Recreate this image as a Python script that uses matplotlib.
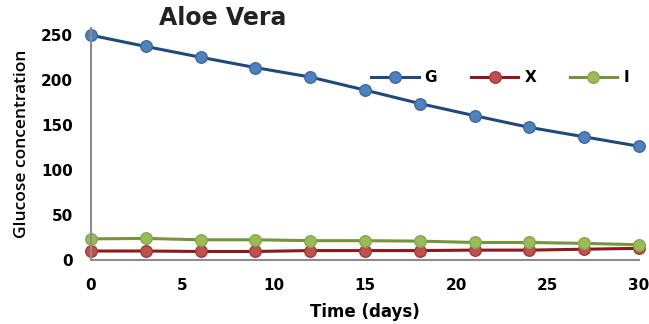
import matplotlib
matplotlib.use("Agg")
import matplotlib.pyplot as plt

days = [0, 3, 6, 9, 12, 15, 18, 21, 24, 27, 30]
G = [250, 237.5, 225.5, 214, 203.5, 189, 174, 160.5, 147.5, 137, 126.5]
X = [10, 10, 9.5, 9.5, 10.5, 10.5, 10.5, 11, 11, 12, 13]
I = [23.5, 24, 22.5, 22.5, 21.5, 21.5, 21, 19.5, 19.5, 18.5, 17]
series_names = ["G", "X", "I"]
xticks = [0, 5, 10, 15, 20, 25, 30]
yticks = [0, 50, 100, 150, 200, 250]

fig = plt.figure(figsize=(6.49, 3.24), dpi=100)
ax = fig.add_axes([0.1402, 0.1975, 0.8444, 0.716])

styles = [
    dict(color="#1F497D", mfc="#4F81BD", mec="#3A6A9F"),
    dict(color="#8B1A1A", mfc="#C0504D", mec="#A03A37"),
    dict(color="#77933C", mfc="#9BBB59", mec="#86A84A"),
]
for name, vals, st in zip(series_names, [G, X, I], styles):
    ax.plot(days, vals, marker="o", lw=2.2, ms=8.3, mew=1,
            color=st["color"], mfc=st["mfc"], mec=st["mec"], label=name,
            clip_on=False)

ax.set_xlim(0, 30)
ax.set_ylim(0, 258)
ax.set_xticks(xticks)
ax.set_yticks(yticks)
ax.tick_params(length=0, labelsize=11)
ax.tick_params(axis="x", pad=13)
ax.tick_params(axis="y", pad=13)
for lab in ax.get_xticklabels() + ax.get_yticklabels():
    lab.set_fontweight("bold")
for s in ["top", "right"]:
    ax.spines[s].set_visible(False)
for s in ["left", "bottom"]:
    ax.spines[s].set_color("#8C8C8C")
    ax.spines[s].set_linewidth(1.5)

ax.set_xlabel("Time (days)", fontsize=12, fontweight="bold", labelpad=7)
ax.set_ylabel("Glucose concentration", fontsize=12.5, fontweight="semibold",
              family=["Open Sans", "DejaVu Sans"], labelpad=8)

fig.text(223 / 649, 1 - 18 / 324, "Aloe Vera", fontsize=17, fontweight="bold",
         ha="center", va="center", color="#222222")

leg = ax.legend(loc="center", bbox_to_anchor=(500 / 649, 1 - 78 / 324),
                bbox_transform=fig.transFigure, ncol=3, frameon=False,
                handlelength=3.1, handletextpad=0.4, columnspacing=2.2,
                prop=dict(weight="bold", size=11))

fig.savefig("out.png", dpi=100)
